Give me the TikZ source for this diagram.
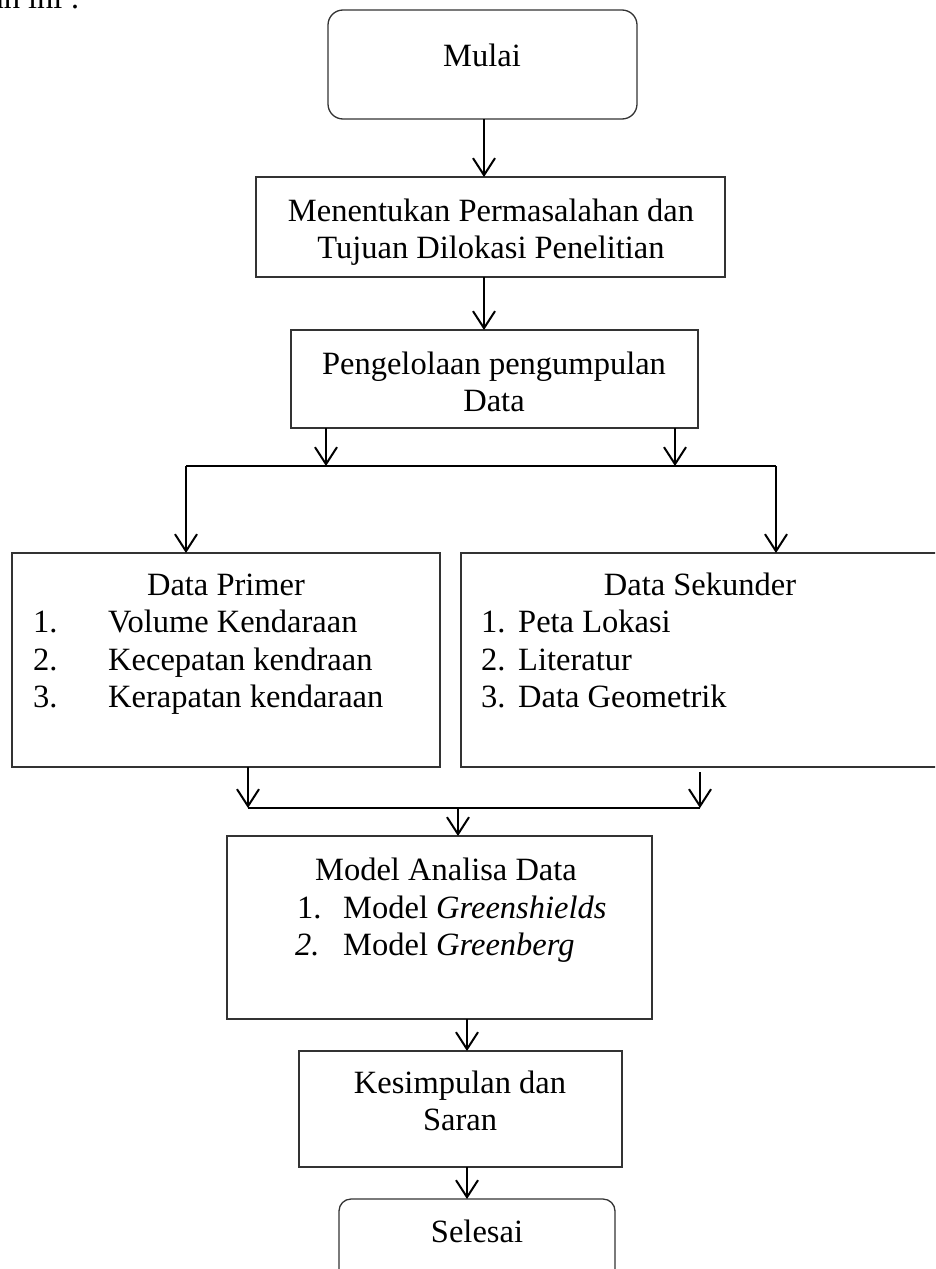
\documentclass[tikz,border=0pt]{standalone}
\usepackage{fontspec}
\setmainfont{Liberation Serif}
\usetikzlibrary{arrows.meta}
\begin{document}
\begin{tikzpicture}[x=1pt,y=-1pt,
  box/.style={draw=black!80, line width=1.3pt, inner sep=0pt, outer sep=0pt, anchor=north west},
  txt/.style={font=\fontsize{32.5}{39}\selectfont, inner sep=0pt, anchor=base},
  ltxt/.style={txt, anchor=base west},
  arr/.style={-{Straight Barb[length=17pt,width=22pt,line width=2pt]}, line width=2pt, black},
  ln/.style={line width=1.6pt, black}]
\useasboundingbox (0,0) rectangle (935,1269);
\clip (0,0) rectangle (935,1269);

% cut-off text at top left
\node[ltxt] (intro) at (-65,8) {bawah ini :};

% boxes
\node[box, rounded corners=15pt, minimum width=309, minimum height=109] (mulai) at (328,10) {};
\node[box, minimum width=469, minimum height=100] (b2) at (256,177) {};
\node[box, minimum width=407, minimum height=98] (b3) at (291,330) {};
\node[box, minimum width=428, minimum height=214] (dp) at (12,553) {};
\node[box, minimum width=480, minimum height=214] (ds) at (461,553) {};
\node[box, minimum width=425, minimum height=183] (mod) at (227,836) {};
\node[box, minimum width=323, minimum height=116] (kes) at (299,1051) {};
\node[box, rounded corners=12pt, minimum width=276, minimum height=110] (sel) at (339,1199) {};

% texts
\node[txt] (tmulai) at (482,66) {Mulai};
\node[txt] (tb2a) at (491,221) {Menentukan Permasalahan dan};
\node[txt] (tb2b) at (491,258) {Tujuan Dilokasi Penelitian};
\node[txt] (tb3a) at (494,374) {Pengelolaan pengumpulan};
\node[txt] (tb3b) at (494,411) {Data};

\node[txt] (tdp) at (226,595) {Data Primer};
\node[ltxt] (dp1n) at (33,632) {1.};
\node[ltxt] (dp1) at (108,632) {Volume Kendaraan};
\node[ltxt] (dp2n) at (33,670) {2.};
\node[ltxt] (dp2) at (108,670) {Kecepatan kendraan};
\node[ltxt] (dp3n) at (33,707) {3.};
\node[ltxt] (dp3) at (108,707) {Kerapatan kendaraan};

\node[txt] (tds) at (700,595) {Data Sekunder};
\node[ltxt] (ds1n) at (481,632) {1.};
\node[ltxt] (ds1) at (518,632) {Peta Lokasi};
\node[ltxt] (ds2n) at (481,670) {2.};
\node[ltxt] (ds2) at (518,670) {Literatur};
\node[ltxt] (ds3n) at (481,707) {3.};
\node[ltxt] (ds3) at (518,707) {Data Geometrik};

\node[txt] (tmod) at (446,880) {Model Analisa Data};
\node[ltxt] (m1n) at (297,918) {1.};
\node[ltxt] (m1) at (343,918) {Model \textit{Greenshields}};
\node[ltxt] (m2n) at (295,955) {\textit{2.}};
\node[ltxt] (m2) at (343,955) {Model \textit{Greenberg}};

\node[txt] (tkesa) at (460,1093) {Kesimpulan dan};
\node[txt] (tkesb) at (460,1130) {Saran};
\node[txt] (tsel) at (477,1242) {Selesai};

% connectors
\coordinate (c1) at (484,0);
\draw[arr] (c1 |- mulai.south) -- (c1 |- b2.north);
\draw[arr] (c1 |- b2.south) -- (c1 |- b3.north);

\coordinate (s1) at (326,466);
\coordinate (s2) at (675,466);
\coordinate (jL) at (186,466);
\coordinate (jR) at (776,466);
\draw[arr] (s1 |- b3.south) -- (s1);
\draw[arr] (s2 |- b3.south) -- (s2);
\draw[ln] (jL) -- (jR);
\draw[arr] (jL) -- (jL |- dp.north);
\draw[arr] (jR) -- (jR |- ds.north);

\coordinate (kL) at (248,808);
\coordinate (kR) at (700,808);
\coordinate (kM) at (458,808);
\draw[arr] (kL |- dp.south) -- (kL);
\draw[arr] ([yshift=-5pt]kR |- ds.south) -- (kR);
\draw[ln] (kL) -- (kR);
\draw[arr] (kM) -- (kM |- mod.north);

\coordinate (c5) at (467,0);
\draw[arr] (c5 |- mod.south) -- (c5 |- kes.north);
\draw[arr] (c5 |- kes.south) -- (c5 |- sel.north);
\end{tikzpicture}
\end{document}
